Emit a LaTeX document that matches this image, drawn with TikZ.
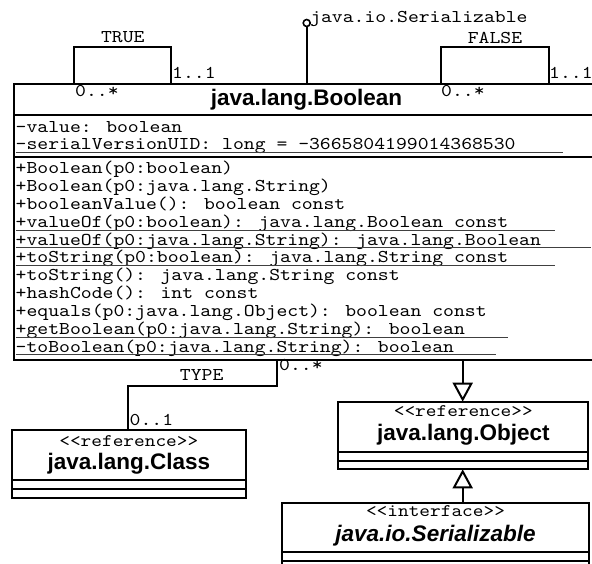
\documentclass[tikz,border=0pt]{standalone}
\usepackage{fontspec}
\newfontfamily\sansf{Liberation Sans}
\newfontfamily\monof[FakeStretch=1.15]{lmmono10-regular.otf}
\usetikzlibrary{arrows.meta,calc}
\begin{document}
\begin{tikzpicture}[x=1pt,y=-1pt,
  box/.style={draw,line width=2.2pt,inner sep=0pt,outer sep=0pt,anchor=north west},
  sep/.style={line width=2.2pt},
  mem/.style={font=\monof\fontsize{18}{20}\selectfont,inner sep=0pt,anchor=base west},
  lbl/.style={font=\monof\fontsize{18}{20}\selectfont,inner sep=0pt,anchor=base west},
  clbl/.style={font=\monof\fontsize{18}{20}\selectfont,inner sep=0pt,anchor=base},
  ttl/.style={font=\sansf\bfseries\fontsize{22.5}{26}\selectfont,inner sep=0pt,anchor=base},
  ster/.style={font=\monof\fontsize{17.7}{20}\selectfont,inner sep=0pt,anchor=base},
  assoc/.style={line width=2pt},
  gen/.style={line width=2pt,-{Triangle[open,length=19pt,width=20pt]}},
  uline/.style={line width=1pt,black!75}
]
\useasboundingbox (0,0) rectangle (592,564);

% ---------- boxes ----------
\node[box,minimum width=585pt,minimum height=276pt] (bool) at (14,84) {};
\draw[sep] (bool.west |- 0,115) -- (bool.east |- 0,115);
\draw[sep] (bool.west |- 0,157) -- (bool.east |- 0,157);

\node[box,minimum width=250pt,minimum height=67.6pt] (obj) at (338.3,401.7) {};
\draw[sep] (obj.west |- 0,452.3) -- (obj.east |- 0,452.3);
\draw[sep] (obj.west |- 0,461) -- (obj.east |- 0,461);

\node[box,minimum width=234.3pt,minimum height=68.3pt] (cls) at (11.7,430) {};
\draw[sep] (cls.west |- 0,480) -- (cls.east |- 0,480);
\draw[sep] (cls.west |- 0,489) -- (cls.east |- 0,489);

\node[box,minimum width=307.6pt,minimum height=70pt] (ser) at (281.7,502.7) {};
\draw[sep] (ser.west |- 0,551.7) -- (ser.east |- 0,551.7);
\draw[sep] (ser.west |- 0,561) -- (ser.east |- 0,561);

% ---------- titles ----------
\node[ttl] (tbool) at (306.5,106) {java.lang.Boolean};
\node[ster] (sobj) at (463.3,416.7) {<{}<reference>{}>};
\node[ttl] (tobj) at (463.3,440) {java.lang.Object};
\node[ster] (scls) at (128.8,446) {<{}<reference>{}>};
\node[ttl] (tcls) at (128.8,469.3) {java.lang.Class};
\node[ster] (sser) at (435.5,516.7) {<{}<interface>{}>};
\node[ttl,font=\sansf\bfseries\itshape\fontsize{22.5}{26}\selectfont] (tser) at (435.5,541) {java.io.Serializable};

% ---------- members ----------
\node[mem] (a0) at (15.5,132.5) {-value: boolean};
\node[mem] (a1) at (15.5,149.5) {-serialVersionUID: long = -3665804199014368530};

\node[mem] (o0) at (15.5,174) {+Boolean(p0:boolean)};
\node[mem] (o1) at (15.5,191.8) {+Boolean(p0:java.lang.String)};
\node[mem] (o2) at (15.5,209.6) {+booleanValue(): boolean const};
\node[mem] (o3) at (15.5,227.4) {+valueOf(p0:boolean): java.lang.Boolean const};
\node[mem] (o4) at (15.5,245.2) {+valueOf(p0:java.lang.String): java.lang.Boolean};
\node[mem] (o5) at (15.5,263) {+toString(p0:boolean): java.lang.String const};
\node[mem] (o6) at (15.5,280.8) {+toString(): java.lang.String const};
\node[mem] (o7) at (15.5,298.6) {+hashCode(): int const};
\node[mem] (o8) at (15.5,316.4) {+equals(p0:java.lang.Object): boolean const};
\node[mem] (o9) at (15.5,334.2) {+getBoolean(p0:java.lang.String): boolean};
\node[mem] (o10) at (15.5,352) {-toBoolean(p0:java.lang.String): boolean};

\foreach \nm in {a1,o3,o4,o5,o9,o10}{
  \draw[uline] let \p1=(\nm.base west), \p2=(\nm.base east) in
    ({\x1},{\y1-2.8pt}) -- ({\x1+1.095*(\x2-\x1)},{\y1-2.8pt});
}

% ---------- self associations ----------
\coordinate (tl) at (74,47);
\coordinate (tr) at (171,47);
\draw[assoc] (bool.north -| tl) -- (tl) -- (tr) -- (bool.north -| tr);
\node[clbl] (ltrue) at (122.8,42.7) {TRUE};
\node[lbl] (ltr1) at (172,79) {1..1};
\node[lbl] (ltr0) at (75,96.5) {0..*};

\coordinate (fl) at (440.7,47);
\coordinate (fr) at (549.3,47);
\draw[assoc] (bool.north -| fl) -- (fl) -- (fr) -- (bool.north -| fr);
\node[clbl] (lfalse) at (495,43.3) {FALSE};
\node[lbl] (lfa1) at (549,79) {1..1};
\node[lbl] (lfa0) at (441,96.5) {0..*};

% ---------- lollipop ----------
\node[circle,draw,line width=1.6pt,minimum size=7pt,inner sep=0pt,outer sep=0pt] (lol) at (306.7,23) {};
\draw[assoc] (bool.north -| lol) -- (lol.south);
\node[lbl] (llol) at (310,22.7) {java.io.Serializable};

% ---------- TYPE association ----------
\coordinate (ty1) at (276.7,386);
\coordinate (ty2) at (128.3,386);
\draw[assoc] (bool.south -| ty1) -- (ty1) -- (ty2) -- (cls.north -| ty2);
\node[clbl] (ltype) at (201.7,380) {TYPE};
\node[lbl] (lty0) at (279,370.7) {0..*};
\node[lbl] (lty1) at (129.5,425) {0..1};

% ---------- generalizations ----------
\coordinate (gx) at (462.7,0);
\draw[gen] (bool.south -| gx) -- (obj.north -| gx);
\draw[gen] (ser.north -| gx) -- (obj.south -| gx);
\end{tikzpicture}
\end{document}
